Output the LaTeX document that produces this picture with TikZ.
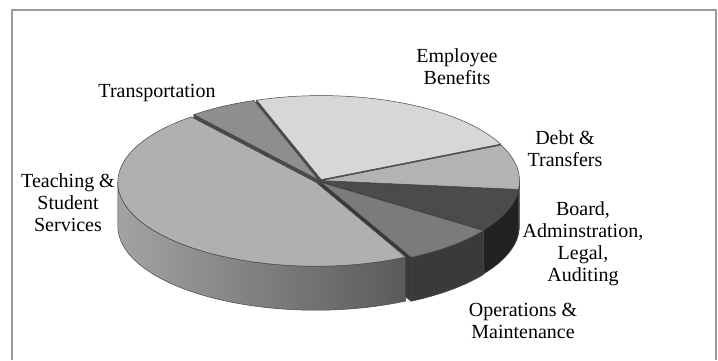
\documentclass[tikz,border=0pt]{standalone}
\usepackage{fontspec}
\setmainfont{Liberation Serif}
\usetikzlibrary{calc}
\definecolor{teachtop}{HTML}{B0B0B0}
\definecolor{transtop}{HTML}{8E8E8E}
\definecolor{emptop}{HTML}{D7D7D7}
\definecolor{debttop}{HTML}{B3B3B3}
\definecolor{boardtop}{HTML}{4B4B4B}
\definecolor{opstop}{HTML}{7B7B7B}
\definecolor{sideL}{HTML}{A3A3A3}
\definecolor{sideM}{HTML}{888888}
\definecolor{sideR}{HTML}{5A5A5A}
\definecolor{opsside}{HTML}{3A3A3A}
\definecolor{boardside}{HTML}{222222}
\definecolor{debtside}{HTML}{6A6A6A}
\definecolor{cutface}{HTML}{4A4A4A}
\definecolor{framegray}{HTML}{9A9A9A}
\begin{document}
\begin{tikzpicture}[x=1pt,y=1pt,
  lbl/.style={font=\fontsize{20}{22}\selectfont, align=center, inner sep=0pt},
  rim/.style={draw=black!72, line width=0.5pt},
  cut/.style={fill=cutface, draw=black!80, line width=0.5pt}]
\useasboundingbox (0,0) rectangle (718,360);
\draw[framegray, line width=1.5pt] (12,0) -- (12,350) -- (716,350) -- (716,0);

\coordinate (C) at (320,179);
\coordinate (Tc) at ($(C)+(-4.2,-1.2)$);
\coordinate (Rc) at ($(C)+(-1.5,1.1)$);
\coordinate (Ec) at ($(C)+(1.2,1.4)$);
\coordinate (Dc) at ($(C)+(1.6,0.4)$);
\coordinate (Bc) at ($(C)+(1.6,-0.6)$);
\coordinate (Oc) at ($(C)+(1.2,-1.4)$);

% radial cut faces
\path[cut] (Rc) -- ($(Rc)+(129:198pt and 84pt)$) -- ++(0,-44) -- ($(Rc)+(0,-44)$) -- cycle;
\path[cut] (Ec) -- ($(Ec)+(109:198pt and 84pt)$) -- ++(0,-44) -- ($(Ec)+(0,-44)$) -- cycle;
\path[cut] (Ec) -- ($(Ec)+(25:198pt and 84pt)$) -- ++(0,-44) -- ($(Ec)+(0,-44)$) -- cycle;
\path[cut] (Dc) -- ($(Dc)+(354:198pt and 84pt)$) -- ++(0,-44) -- ($(Dc)+(0,-44)$) -- cycle;
\path[cut] (Bc) -- ($(Bc)+(325:198pt and 84pt)$) -- ++(0,-44) -- ($(Bc)+(0,-44)$) -- cycle;
\path[cut, fill=black!78] (Oc) -- ($(Oc)+(297:198pt and 84pt)$) -- ++(0,-44) -- ($(Oc)+(0,-44)$) -- cycle;

% outer sides
\path[rim, fill=debtside] ($(Dc)+(354:198pt and 84pt)$) arc[start angle=354, end angle=360, x radius=198pt, y radius=84pt] -- ++(0,-44) arc[start angle=360, end angle=354, x radius=198pt, y radius=84pt] -- cycle;
\path[rim, fill=boardside] ($(Bc)+(325:198pt and 84pt)$) arc[start angle=325, end angle=354, x radius=198pt, y radius=84pt] -- ++(0,-44) arc[start angle=354, end angle=325, x radius=198pt, y radius=84pt] -- cycle;
\path[rim, fill=opsside] ($(Oc)+(297:198pt and 84pt)$) arc[start angle=297, end angle=325, x radius=198pt, y radius=84pt] -- ++(0,-44) arc[start angle=325, end angle=297, x radius=198pt, y radius=84pt] -- cycle;
\path[rim, left color=sideL, middle color=sideM, right color=sideR] ($(Tc)+(180:198pt and 84pt)$) arc[start angle=180, end angle=297, x radius=198pt, y radius=84pt] -- ++(0,-44) arc[start angle=297, end angle=180, x radius=198pt, y radius=84pt] -- cycle;

% top faces
\path[rim, fill=teachtop] (Tc) -- ($(Tc)+(129:198pt and 84pt)$) arc[start angle=129, end angle=297, x radius=198pt, y radius=84pt] -- cycle;
\path[rim, fill=transtop] (Rc) -- ($(Rc)+(109:198pt and 84pt)$) arc[start angle=109, end angle=129, x radius=198pt, y radius=84pt] -- cycle;
\path[rim, fill=emptop] (Ec) -- ($(Ec)+(25:198pt and 84pt)$) arc[start angle=25, end angle=109, x radius=198pt, y radius=84pt] -- cycle;
\path[rim, fill=debttop] (Dc) -- ($(Dc)+(354:198pt and 84pt)$) arc[start angle=354, end angle=385, x radius=198pt, y radius=84pt] -- cycle;
\path[rim, fill=boardtop] (Bc) -- ($(Bc)+(325:198pt and 84pt)$) arc[start angle=325, end angle=354, x radius=198pt, y radius=84pt] -- cycle;
\path[rim, fill=opstop] (Oc) -- ($(Oc)+(297:198pt and 84pt)$) arc[start angle=297, end angle=325, x radius=198pt, y radius=84pt] -- cycle;

% labels
\node[lbl] (ltrans) at (157,267) {Transportation};
\node[lbl] (lemp) at (457,293) {Employee\\Benefits};
\node[lbl] (ldebt) at (565,211) {Debt \&\\Transfers};
\node[lbl] (lboard) at (583,116) {Board,\\Adminstration,\\Legal,\\Auditing};
\node[lbl] (lops) at (523,39) {Operations \&\\Maintenance};
\node[lbl] (lteach) at (68,157) {Teaching \&\\Student\\Services};
\end{tikzpicture}
\end{document}
